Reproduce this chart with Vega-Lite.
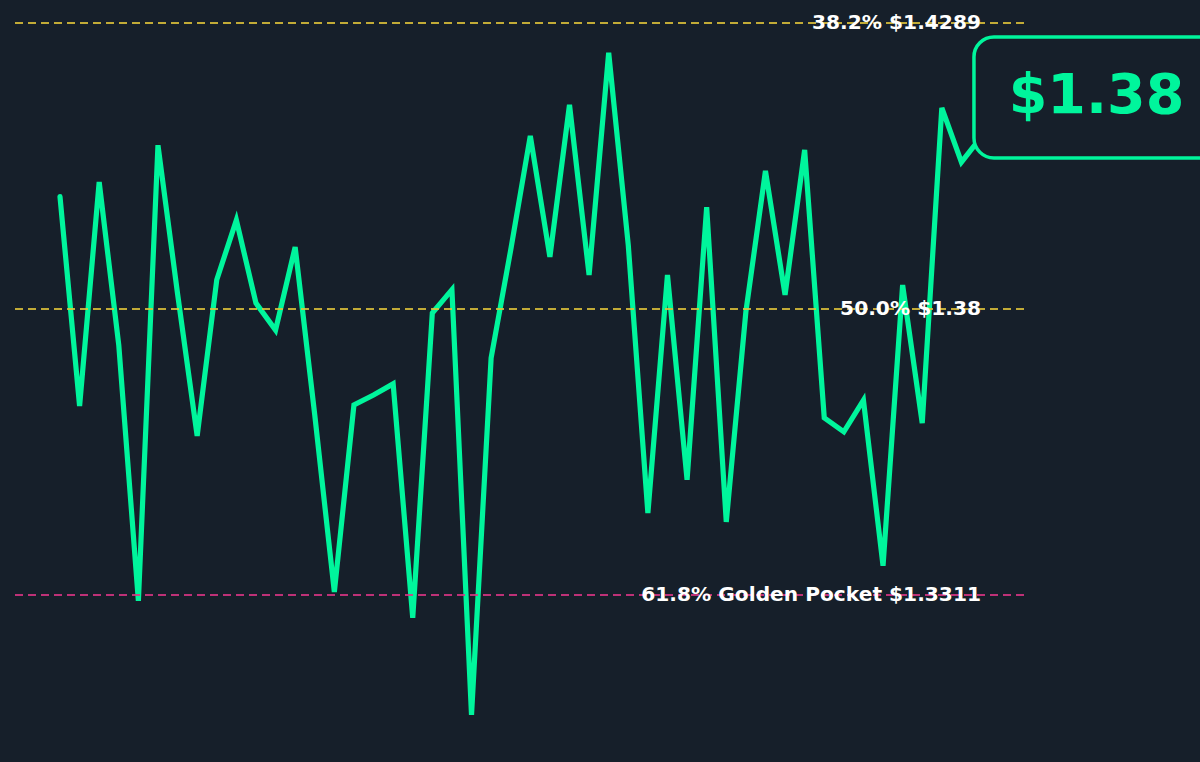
{
  "$schema": "https://vega.github.io/schema/vega-lite/v6.json",
  "width": 1200,
  "height": 762,
  "autosize": {"type": "fit", "contains": "padding"},
  "padding": 0,
  "background": "#161f2a",
  "config": {"view": {"stroke": null}, "axis": {"disable": true}},
  "datasets": {
    "prices": [
      {"i": 0, "price": 1.3992}, {"i": 1, "price": 1.3634}, {"i": 2, "price": 1.4017}, {"i": 3, "price": 1.3738},
      {"i": 4, "price": 1.3301}, {"i": 5, "price": 1.4080}, {"i": 6, "price": 1.3826}, {"i": 7, "price": 1.3583},
      {"i": 8, "price": 1.3850}, {"i": 9, "price": 1.3952}, {"i": 10, "price": 1.3810}, {"i": 11, "price": 1.3764},
      {"i": 12, "price": 1.3906}, {"i": 13, "price": 1.3619}, {"i": 14, "price": 1.3316}, {"i": 15, "price": 1.3636},
      {"i": 16, "price": 1.3653}, {"i": 17, "price": 1.3672}, {"i": 18, "price": 1.3272}, {"i": 19, "price": 1.3793},
      {"i": 20, "price": 1.3833}, {"i": 21, "price": 1.3106}, {"i": 22, "price": 1.3716}, {"i": 23, "price": 1.3901},
      {"i": 24, "price": 1.4096}, {"i": 25, "price": 1.3889}, {"i": 26, "price": 1.4149}, {"i": 27, "price": 1.3858},
      {"i": 28, "price": 1.4238}, {"i": 29, "price": 1.3909}, {"i": 30, "price": 1.3451}, {"i": 31, "price": 1.3858},
      {"i": 32, "price": 1.3508}, {"i": 33, "price": 1.3974}, {"i": 34, "price": 1.3436}, {"i": 35, "price": 1.3795},
      {"i": 36, "price": 1.4036}, {"i": 37, "price": 1.3824}, {"i": 38, "price": 1.4072}, {"i": 39, "price": 1.3614},
      {"i": 40, "price": 1.3590}, {"i": 41, "price": 1.3644}, {"i": 42, "price": 1.3361}, {"i": 43, "price": 1.3841},
      {"i": 44, "price": 1.3605}, {"i": 45, "price": 1.4144}, {"i": 46, "price": 1.4051}, {"i": 47, "price": 1.4094}
    ],
    "levels": [
      {"level": 1.4289, "kind": "fib", "label": "38.2% $1.4289"},
      {"level": 1.38, "kind": "fib", "label": "50.0% $1.38"},
      {"level": 1.3311, "kind": "golden", "label": "61.8% Golden Pocket $1.3311"}
    ],
    "badge": [{"label": "$1.38"}]
  },
  "layer": [
    {
      "data": {"name": "prices"},
      "mark": {"type": "line", "color": "#00f59c", "strokeWidth": 5.2, "strokeJoin": "miter", "strokeCap": "round"},
      "encoding": {
        "x": {"field": "i", "type": "quantitative", "scale": {"domain": [-3.0618, 58.175], "nice": false, "zero": false}, "axis": null},
        "y": {"field": "price", "type": "quantitative", "scale": {"domain": [1.30255, 1.43283], "nice": false, "zero": false}, "axis": null}
      }
    },
    {
      "data": {"name": "levels"},
      "mark": {"type": "rule", "strokeWidth": 2.2, "strokeDash": [8, 5], "opacity": 0.85},
      "encoding": {
        "x": {"datum": -2.296, "type": "quantitative"},
        "x2": {"datum": 49.24},
        "y": {"field": "level", "type": "quantitative"},
        "color": {"field": "kind", "type": "nominal", "scale": {"domain": ["fib", "golden"], "range": ["#e0c43a", "#dc3585"]}, "legend": null}
      }
    },
    {
      "data": {"name": "levels"},
      "mark": {"type": "text", "align": "right", "baseline": "middle", "font": "DejaVu Sans", "fontWeight": "bold", "fontSize": 20.2, "color": "#ffffff"},
      "encoding": {
        "x": {"datum": 47, "type": "quantitative"},
        "y": {"field": "level", "type": "quantitative"},
        "text": {"field": "label"}
      }
    },
    {
      "data": {"name": "badge"},
      "mark": {"type": "rect", "fill": "#161f2a", "stroke": "#00f59c", "strokeWidth": 3.5, "cornerRadius": 20, "clip": true},
      "encoding": {
        "x": {"datum": 46.64, "type": "quantitative"},
        "x2": {"datum": 61},
        "y": {"datum": 1.42651, "type": "quantitative"},
        "y2": {"datum": 1.40582}
      }
    },
    {
      "data": {"name": "badge"},
      "mark": {"type": "text", "align": "center", "baseline": "alphabetic", "font": "DejaVu Sans", "fontWeight": "bold", "fontSize": 55.5, "color": "#00f59c"},
      "encoding": {
        "x": {"datum": 52.893, "type": "quantitative"},
        "y": {"datum": 1.41346, "type": "quantitative"},
        "text": {"field": "label"}
      }
    }
  ]
}
